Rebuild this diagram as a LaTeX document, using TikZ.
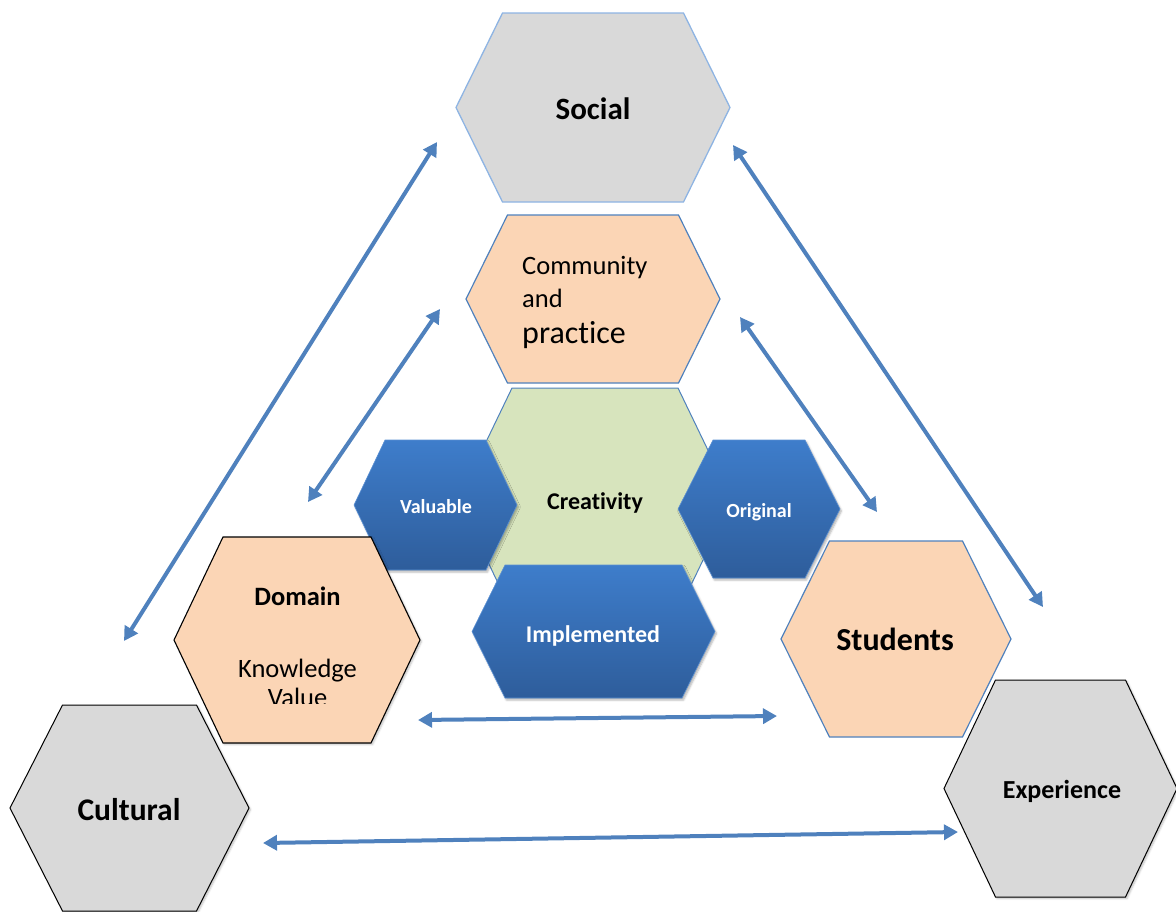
\documentclass[tikz,border=0pt]{standalone}
\usepackage{fontspec}
\setmainfont{Carlito}[Ligatures=NoCommon]
\usetikzlibrary{arrows.meta,shadows.blur}

\definecolor{hexgray}{HTML}{D9D9D9}
\definecolor{hexpeach}{HTML}{FBD5B5}
\definecolor{hexgreen}{HTML}{D7E4BD}
\definecolor{linkblue}{HTML}{4F81BD}
\definecolor{paleedge}{HTML}{8EB4E3}
\definecolor{deepblueA}{HTML}{3E7DCB}
\definecolor{deepblueB}{HTML}{2E5D9B}

% hexagon with flat top and bottom: style, centre x, centre y,
% half width, half width of the top edge, half height
\newcommand\hexpath[6]{%
  \path[#1] (#2-#4,#3) -- (#2-#5,#3-#6) -- (#2+#5,#3-#6) -- (#2+#4,#3)
    -- (#2+#5,#3+#6) -- (#2-#5,#3+#6) -- cycle;}

\tikzset{
  grayhex/.style={fill=hexgray, draw=black, line width=1pt,
    blur shadow={shadow xshift=1.5pt, shadow yshift=-1.5pt, shadow opacity=25}},
  socialhex/.style={fill=hexgray, draw=paleedge, line width=1.3pt},
  peachhex/.style={fill=hexpeach, draw=linkblue, line width=1.2pt},
  domainhex/.style={fill=hexpeach, draw=black, line width=1.1pt,
    blur shadow={shadow xshift=1.5pt, shadow yshift=-1.5pt, shadow opacity=25}},
  greenhex/.style={fill=hexgreen, draw=linkblue, line width=1pt},
  bluehex/.style={top color=deepblueA, bottom color=deepblueB,
    draw=deepblueA!85!white, line width=0.6pt,
    blur shadow={shadow xshift=1.5pt, shadow yshift=-2pt, shadow opacity=30}},
  lab/.style={anchor=base, inner sep=0pt},
  blacklab/.style={lab, font=\bfseries, text=black},
  whitelab/.style={lab, font=\bfseries, text=white},
  link/.style={draw=linkblue, line width=4pt,
    {Triangle[length=14pt,width=15pt]}-{Triangle[length=14pt,width=15pt]}}
}

\begin{document}
\begin{tikzpicture}[x=1pt,y=-1pt]
\useasboundingbox (0,0) rectangle (1176,911);
\clip (0,0) rectangle (1176,911);

% outer ring
\hexpath{socialhex}{593}{107.5}{137}{90.5}{94.5}
\node[blacklab, font=\fontsize{31}{33}\bfseries\selectfont] (social) at (593,119) {Social};

% inner ring, top
\hexpath{peachhex}{593}{299}{127}{85.5}{84}
\node[lab, anchor=base west, font=\fontsize{26.5}{28}\selectfont] (community) at (522,274) {Community};
\node[lab, anchor=base west, font=\fontsize{26.5}{28}\selectfont] (and) at (522,307) {and};
\node[lab, anchor=base west, font=\fontsize{32}{34}\selectfont] (practice) at (522,343) {practice};

% centre
\hexpath{greenhex}{595}{500}{137}{83}{112}
\node[blacklab, font=\fontsize{24}{26}\bfseries\selectfont] (creativity) at (595,509) {Creativity};

\hexpath{bluehex}{435.5}{505}{81.5}{50.5}{65}
\node[whitelab, font=\fontsize{20}{22}\bfseries\selectfont] (valuable) at (436,513) {Valuable};

\hexpath{bluehex}{759}{509}{81}{46}{69}
\node[whitelab, font=\fontsize{20}{22}\bfseries\selectfont] (original) at (759,517) {Original};

\hexpath{bluehex}{593.5}{631.5}{121.5}{88.5}{66.5}
\node[whitelab, font=\fontsize{24}{26}\bfseries\selectfont] (implemented) at (593,642) {Implemented};

% lower corners
\hexpath{grayhex}{129.5}{808}{119.5}{67}{103}
\node[blacklab, font=\fontsize{31.5}{33}\bfseries\selectfont] (cultural) at (129,820) {Cultural};

\hexpath{domainhex}{297}{640}{123}{74}{103}
\node[blacklab, font=\fontsize{26.5}{28}\bfseries\selectfont] (domain) at (297.5,605) {Domain};
\node[lab, font=\fontsize{26.5}{28}\selectfont] (knowledge) at (297.5,677) {Knowledge};
\begin{scope}
  \clip (174,537) rectangle (420,703);
  \node[lab, font=\fontsize{26.5}{28}\selectfont] (value) at (297.5,706) {Value};
\end{scope}

\hexpath{peachhex}{896}{639}{115}{66.5}{98}
\node[blacklab, font=\fontsize{32}{34}\bfseries\selectfont] (students) at (895,650) {Students};

\hexpath{grayhex}{1060.5}{788.5}{116.5}{65}{108.5}
\node[blacklab, font=\fontsize{26}{28}\bfseries\selectfont] (experience) at (1062,798) {Experience};

% free ends of the two-way links
\coordinate (s1) at (437,142);  \coordinate (c1) at (124,641);
\coordinate (s2) at (733,145);  \coordinate (e2) at (1043,607);
\coordinate (p1) at (440,309);  \coordinate (d1) at (308,502);
\coordinate (p2) at (740,317);  \coordinate (t2) at (877,512);
\coordinate (d3) at (418,720);  \coordinate (t3) at (777,716);
\coordinate (c4) at (263,843);  \coordinate (e4) at (958,832);

\draw[link] (s1) -- (c1);
\draw[link] (s2) -- (e2);
\draw[link] (p1) -- (d1);
\draw[link] (p2) -- (t2);
\draw[link] (d3) -- (t3);
\draw[link] (c4) -- (e4);
\end{tikzpicture}
\end{document}
